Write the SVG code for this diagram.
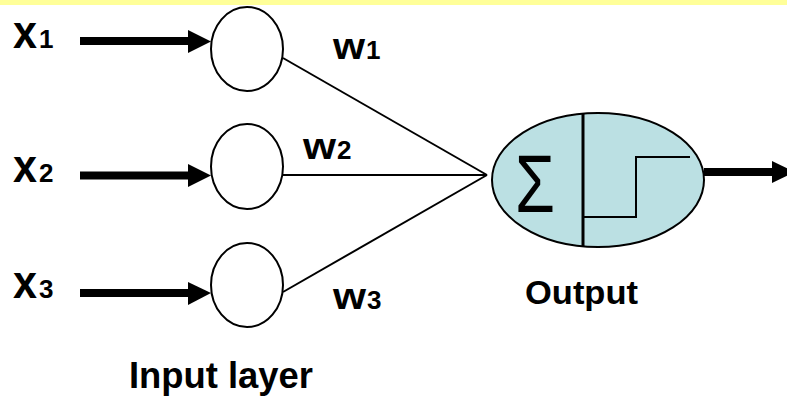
<svg xmlns="http://www.w3.org/2000/svg" width="787" height="397" viewBox="0 0 787 397">
  <style>
    .lbl { font-family: "Liberation Sans", Arial, sans-serif; font-weight: bold; fill: #000; }
    .var { font-size: 47px; }
    .wt { font-size: 37px; }
    .idx { font-size: 26px; }
    .neuron { fill: #fff; stroke: #000; stroke-width: 2; }
    .edge { stroke: #000; stroke-width: 2; fill: none; }
    .shaft { stroke: #000; stroke-width: 8; fill: none; }
    .head { fill: #000; }
  </style>
  <rect x="0" y="0" width="787" height="397" fill="#fff"/>
  <rect x="0" y="0" width="787" height="5" fill="#ffff99"/>

  <g id="connectors">
    <!-- input arrows -->
    <line class="shaft" x1="80" y1="41" x2="192" y2="41"/>
    <polygon class="head" points="188,30 211,41.5 188,53"/>
    <line class="shaft" x1="80" y1="175.5" x2="192" y2="175.5"/>
    <polygon class="head" points="188,164 211,175.5 188,187"/>
    <line class="shaft" x1="80" y1="293" x2="192" y2="293"/>
    <polygon class="head" points="188,282 211,293 188,305"/>
    <!-- weighted links -->
    <line class="edge" x1="283" y1="58" x2="487" y2="175"/>
    <line class="edge" x1="283" y1="175" x2="487" y2="175"/>
    <line class="edge" x1="283" y1="292" x2="487" y2="175"/>
    <!-- output arrow -->
    <line class="shaft" x1="704" y1="172" x2="776" y2="172"/>
    <polygon class="head" points="772,161 795,172 772,183"/>
  </g>

  <g id="in1">
    <ellipse class="neuron" cx="247" cy="49" rx="36" ry="42"/>
  </g>
  <g id="in2">
    <ellipse class="neuron" cx="247" cy="166.5" rx="36" ry="42.5"/>
  </g>
  <g id="in3">
    <ellipse class="neuron" cx="247" cy="285" rx="36" ry="42"/>
  </g>

  <g id="output">
    <ellipse cx="598" cy="180" rx="106" ry="67" fill="#bbe0e3" stroke="#000" stroke-width="2"/>
    <line x1="583" y1="113" x2="583" y2="247" stroke="#000" stroke-width="3"/>
    <text x="515" y="212" font-family="Liberation Sans, Arial, sans-serif" font-size="82" textLength="40" lengthAdjust="spacingAndGlyphs">Σ</text>
    <path d="M583,217 H636 V157 H690" fill="none" stroke="#000" stroke-width="2"/>
  </g>

  <g id="labels">
    <text class="lbl var" x="13" y="48" textLength="24" lengthAdjust="spacingAndGlyphs">x</text>
    <text class="lbl idx" x="39" y="48">1</text>
    <text class="lbl var" x="13" y="182" textLength="24" lengthAdjust="spacingAndGlyphs">x</text>
    <text class="lbl idx" x="39" y="182">2</text>
    <text class="lbl var" x="13" y="298" textLength="24" lengthAdjust="spacingAndGlyphs">x</text>
    <text class="lbl idx" x="39" y="298">3</text>

    <text class="lbl wt" x="333" y="59" textLength="32" lengthAdjust="spacingAndGlyphs">w</text>
    <text class="lbl idx" x="366" y="59">1</text>
    <text class="lbl wt" x="303" y="159" textLength="33" lengthAdjust="spacingAndGlyphs">w</text>
    <text class="lbl idx" x="337" y="159">2</text>
    <text class="lbl wt" x="333" y="309" textLength="33" lengthAdjust="spacingAndGlyphs">w</text>
    <text class="lbl idx" x="367" y="309">3</text>

    <text class="lbl" x="525" y="304" font-size="34" textLength="113" lengthAdjust="spacingAndGlyphs">Output</text>
    <text class="lbl" x="129" y="388" font-size="36" textLength="184" lengthAdjust="spacingAndGlyphs">Input layer</text>
  </g>
</svg>
